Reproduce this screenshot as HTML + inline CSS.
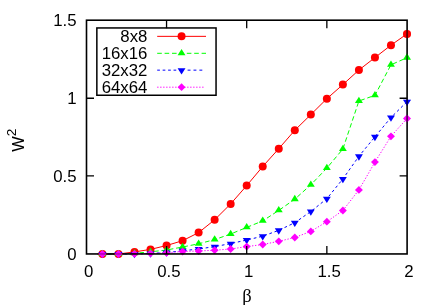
<!DOCTYPE html><html><head><meta charset="utf-8"><style>html,body{margin:0;padding:0;background:#fff;overflow:hidden}svg{display:block;will-change:transform}text{font-family:"Liberation Sans",sans-serif;font-size:16.4px;fill:#000}</style></head><body>
<svg width="436" height="305" viewBox="0 0 436 305">
<rect width="436" height="305" fill="#fff"/>
<polyline points="102.43,254.00 118.46,254.00 134.49,251.90 150.52,249.40 166.55,245.50 182.58,240.70 198.61,232.60 214.64,219.80 230.67,203.90 246.70,185.60 262.73,166.50 278.76,148.70 294.79,130.30 310.82,114.60 326.85,98.70 342.88,84.60 358.91,70.00 374.94,57.60 390.97,45.20 407.00,33.90" fill="none" stroke="#ff0000" stroke-width="1"/>
<line x1="157.2" y1="36.35" x2="206" y2="36.35" stroke="#ff0000" stroke-width="1"/>
<polyline points="102.43,254.00 118.46,254.00 134.49,253.30 150.52,251.80 166.55,250.00 182.58,247.00 198.61,243.80 214.64,239.60 230.67,234.00 246.70,227.40 262.73,220.90 278.76,210.40 294.79,199.20 310.82,184.80 326.85,168.10 342.88,149.00 358.91,101.00 374.94,95.30 390.97,64.80 407.00,57.70" fill="none" stroke="#00ff00" stroke-width="1" stroke-dasharray="4.6,2.8"/>
<line x1="157.2" y1="53.3" x2="206" y2="53.3" stroke="#00ff00" stroke-width="1" stroke-dasharray="4.6,2.8"/>
<polyline points="102.43,254.00 118.46,254.00 134.49,254.00 150.52,253.50 166.55,252.50 182.58,250.80 198.61,249.00 214.64,246.60 230.67,243.60 246.70,240.00 262.73,236.20 278.76,230.30 294.79,222.70 310.82,211.50 326.85,198.70 342.88,178.90 358.91,156.30 374.94,136.80 390.97,117.50 407.00,101.70" fill="none" stroke="#0000ff" stroke-width="1" stroke-dasharray="2.7,2.75"/>
<line x1="157.2" y1="70.15" x2="180" y2="70.15" stroke="#0000ff" stroke-width="1" stroke-dasharray="2.7,2.75"/>
<line x1="187.6" y1="70.15" x2="203" y2="70.15" stroke="#0000ff" stroke-width="1" stroke-dasharray="2.9,3.0"/>
<polyline points="102.43,254.00 118.46,254.00 134.49,253.80 150.52,253.40 166.55,252.80 182.58,251.50 198.61,251.00 214.64,250.20 230.67,249.00 246.70,246.60 262.73,244.50 278.76,241.30 294.79,237.50 310.82,231.40 326.85,221.70 342.88,210.50 358.91,189.90 374.94,162.10 390.97,136.30 407.00,118.50" fill="none" stroke="#ff00ff" stroke-width="1" stroke-dasharray="1.3,1.7"/>
<line x1="157.2" y1="87.2" x2="204.4" y2="87.2" stroke="#ff00ff" stroke-width="1" stroke-dasharray="1.3,1.7"/>
<rect x="96.85" y="27.95" width="119.2" height="67.3" fill="none" stroke="#000" stroke-width="1.5"/>
<circle cx="134.49" cy="251.90" r="4.0" fill="#ff0000"/>
<circle cx="150.52" cy="249.40" r="4.0" fill="#ff0000"/>
<circle cx="166.55" cy="245.50" r="4.0" fill="#ff0000"/>
<circle cx="182.58" cy="240.70" r="4.0" fill="#ff0000"/>
<circle cx="198.61" cy="232.60" r="4.0" fill="#ff0000"/>
<circle cx="214.64" cy="219.80" r="4.0" fill="#ff0000"/>
<circle cx="230.67" cy="203.90" r="4.0" fill="#ff0000"/>
<circle cx="246.70" cy="185.60" r="4.0" fill="#ff0000"/>
<circle cx="262.73" cy="166.50" r="4.0" fill="#ff0000"/>
<circle cx="278.76" cy="148.70" r="4.0" fill="#ff0000"/>
<circle cx="294.79" cy="130.30" r="4.0" fill="#ff0000"/>
<circle cx="310.82" cy="114.60" r="4.0" fill="#ff0000"/>
<circle cx="326.85" cy="98.70" r="4.0" fill="#ff0000"/>
<circle cx="342.88" cy="84.60" r="4.0" fill="#ff0000"/>
<circle cx="358.91" cy="70.00" r="4.0" fill="#ff0000"/>
<circle cx="374.94" cy="57.60" r="4.0" fill="#ff0000"/>
<circle cx="390.97" cy="45.20" r="4.0" fill="#ff0000"/>
<circle cx="407.00" cy="33.90" r="4.0" fill="#ff0000"/>
<circle cx="181.55" cy="36.35" r="4.0" fill="#ff0000"/>
<polygon points="134.49,248.93 130.54,255.25 138.44,255.25" fill="#00ff00"/>
<polygon points="150.52,247.43 146.57,253.75 154.47,253.75" fill="#00ff00"/>
<polygon points="166.55,245.63 162.60,251.95 170.50,251.95" fill="#00ff00"/>
<polygon points="182.58,242.63 178.63,248.95 186.53,248.95" fill="#00ff00"/>
<polygon points="198.61,239.43 194.66,245.75 202.56,245.75" fill="#00ff00"/>
<polygon points="214.64,235.23 210.69,241.55 218.59,241.55" fill="#00ff00"/>
<polygon points="230.67,229.63 226.72,235.95 234.62,235.95" fill="#00ff00"/>
<polygon points="246.70,223.03 242.75,229.35 250.65,229.35" fill="#00ff00"/>
<polygon points="262.73,216.53 258.78,222.85 266.68,222.85" fill="#00ff00"/>
<polygon points="278.76,206.03 274.81,212.35 282.71,212.35" fill="#00ff00"/>
<polygon points="294.79,194.83 290.84,201.15 298.74,201.15" fill="#00ff00"/>
<polygon points="310.82,180.43 306.87,186.75 314.77,186.75" fill="#00ff00"/>
<polygon points="326.85,163.73 322.90,170.05 330.80,170.05" fill="#00ff00"/>
<polygon points="342.88,144.63 338.93,150.95 346.83,150.95" fill="#00ff00"/>
<polygon points="358.91,96.63 354.96,102.95 362.86,102.95" fill="#00ff00"/>
<polygon points="374.94,90.93 370.99,97.25 378.89,97.25" fill="#00ff00"/>
<polygon points="390.97,60.43 387.02,66.75 394.92,66.75" fill="#00ff00"/>
<polygon points="407.00,53.33 403.05,59.65 410.95,59.65" fill="#00ff00"/>
<polygon points="181.55,48.93 177.60,55.25 185.50,55.25" fill="#00ff00"/>
<polygon points="134.49,258.37 130.54,252.05 138.44,252.05" fill="#0000ff"/>
<polygon points="150.52,257.87 146.57,251.55 154.47,251.55" fill="#0000ff"/>
<polygon points="166.55,256.87 162.60,250.55 170.50,250.55" fill="#0000ff"/>
<polygon points="182.58,255.17 178.63,248.85 186.53,248.85" fill="#0000ff"/>
<polygon points="198.61,253.37 194.66,247.05 202.56,247.05" fill="#0000ff"/>
<polygon points="214.64,250.97 210.69,244.65 218.59,244.65" fill="#0000ff"/>
<polygon points="230.67,247.97 226.72,241.65 234.62,241.65" fill="#0000ff"/>
<polygon points="246.70,244.37 242.75,238.05 250.65,238.05" fill="#0000ff"/>
<polygon points="262.73,240.57 258.78,234.25 266.68,234.25" fill="#0000ff"/>
<polygon points="278.76,234.67 274.81,228.35 282.71,228.35" fill="#0000ff"/>
<polygon points="294.79,227.07 290.84,220.75 298.74,220.75" fill="#0000ff"/>
<polygon points="310.82,215.87 306.87,209.55 314.77,209.55" fill="#0000ff"/>
<polygon points="326.85,203.07 322.90,196.75 330.80,196.75" fill="#0000ff"/>
<polygon points="342.88,183.27 338.93,176.95 346.83,176.95" fill="#0000ff"/>
<polygon points="358.91,160.67 354.96,154.35 362.86,154.35" fill="#0000ff"/>
<polygon points="374.94,141.17 370.99,134.85 378.89,134.85" fill="#0000ff"/>
<polygon points="390.97,121.87 387.02,115.55 394.92,115.55" fill="#0000ff"/>
<polygon points="407.00,106.07 403.05,99.75 410.95,99.75" fill="#0000ff"/>
<polygon points="181.55,74.52 177.60,68.20 185.50,68.20" fill="#0000ff"/>
<polygon points="134.49,249.90 130.54,253.80 134.49,257.70 138.44,253.80" fill="#ff00ff"/>
<polygon points="150.52,249.50 146.57,253.40 150.52,257.30 154.47,253.40" fill="#ff00ff"/>
<polygon points="166.55,248.90 162.60,252.80 166.55,256.70 170.50,252.80" fill="#ff00ff"/>
<polygon points="182.58,247.60 178.63,251.50 182.58,255.40 186.53,251.50" fill="#ff00ff"/>
<polygon points="198.61,247.10 194.66,251.00 198.61,254.90 202.56,251.00" fill="#ff00ff"/>
<polygon points="214.64,246.30 210.69,250.20 214.64,254.10 218.59,250.20" fill="#ff00ff"/>
<polygon points="230.67,245.10 226.72,249.00 230.67,252.90 234.62,249.00" fill="#ff00ff"/>
<polygon points="246.70,242.70 242.75,246.60 246.70,250.50 250.65,246.60" fill="#ff00ff"/>
<polygon points="262.73,240.60 258.78,244.50 262.73,248.40 266.68,244.50" fill="#ff00ff"/>
<polygon points="278.76,237.40 274.81,241.30 278.76,245.20 282.71,241.30" fill="#ff00ff"/>
<polygon points="294.79,233.60 290.84,237.50 294.79,241.40 298.74,237.50" fill="#ff00ff"/>
<polygon points="310.82,227.50 306.87,231.40 310.82,235.30 314.77,231.40" fill="#ff00ff"/>
<polygon points="326.85,217.80 322.90,221.70 326.85,225.60 330.80,221.70" fill="#ff00ff"/>
<polygon points="342.88,206.60 338.93,210.50 342.88,214.40 346.83,210.50" fill="#ff00ff"/>
<polygon points="358.91,186.00 354.96,189.90 358.91,193.80 362.86,189.90" fill="#ff00ff"/>
<polygon points="374.94,158.20 370.99,162.10 374.94,166.00 378.89,162.10" fill="#ff00ff"/>
<polygon points="390.97,132.40 387.02,136.30 390.97,140.20 394.92,136.30" fill="#ff00ff"/>
<polygon points="407.00,114.60 403.05,118.50 407.00,122.40 410.95,118.50" fill="#ff00ff"/>
<polygon points="181.55,83.30 177.60,87.20 181.55,91.10 185.50,87.20" fill="#ff00ff"/>
<path d="M166.55,253.95 V245.95 M166.55,20.2 V28.2 M246.70,253.95 V245.95 M246.70,20.2 V28.2 M326.85,253.95 V245.95 M326.85,20.2 V28.2 M86.5,175.90 H94.0 M407.1,175.90 H399.6 M86.5,98.25 H94.0 M407.1,98.25 H399.6" stroke="#000" stroke-width="1.3" fill="none"/>
<rect x="86.5" y="20.2" width="320.6" height="233.75" fill="none" stroke="#000" stroke-width="1.6"/>
<circle cx="102.43" cy="254.00" r="4.0" fill="#ff0000"/>
<circle cx="118.46" cy="254.00" r="4.0" fill="#ff0000"/>
<polygon points="102.43,249.63 98.48,255.95 106.38,255.95" fill="#00ff00"/>
<polygon points="118.46,249.63 114.51,255.95 122.41,255.95" fill="#00ff00"/>
<polygon points="102.43,258.37 98.48,252.05 106.38,252.05" fill="#0000ff"/>
<polygon points="118.46,258.37 114.51,252.05 122.41,252.05" fill="#0000ff"/>
<polygon points="102.43,250.10 98.48,254.00 102.43,257.90 106.38,254.00" fill="#ff00ff"/>
<polygon points="118.46,250.10 114.51,254.00 118.46,257.90 122.41,254.00" fill="#ff00ff"/>
<g opacity="0.3">
<circle cx="407.00" cy="33.90" r="4.0" fill="#ff0000"/>
<polygon points="407.00,53.33 403.05,59.65 410.95,59.65" fill="#00ff00"/>
<polygon points="407.00,106.07 403.05,99.75 410.95,99.75" fill="#0000ff"/>
<polygon points="407.00,114.60 403.05,118.50 407.00,122.40 410.95,118.50" fill="#ff00ff"/>
</g>
<line x1="97" y1="253.95" x2="124" y2="253.95" stroke="#000" stroke-width="1.6" opacity="0.3"/>
<text transform="translate(147.4,42.3) scale(1.025,1)" text-anchor="end">8x8</text>
<text transform="translate(147.4,58.9) scale(1.025,1)" text-anchor="end">16x16</text>
<text transform="translate(147.4,75.8) scale(1.025,1)" text-anchor="end">32x32</text>
<text transform="translate(147.4,92.8) scale(1.025,1)" text-anchor="end">64x64</text>
<text transform="translate(76.6,25.9) scale(1.025,1)" text-anchor="end">1.5</text>
<text transform="translate(76.6,103.6) scale(1.025,1)" text-anchor="end">1</text>
<text transform="translate(76.6,181.8) scale(1.025,1)" text-anchor="end">0.5</text>
<text transform="translate(76.6,259.7) scale(1.025,1)" text-anchor="end">0</text>
<text transform="translate(88.6,276.9) scale(1.025,1)" text-anchor="middle">0</text>
<text transform="translate(168.8,276.9) scale(1.025,1)" text-anchor="middle">0.5</text>
<text transform="translate(248.6,276.9) scale(1.025,1)" text-anchor="middle">1</text>
<text transform="translate(329.2,276.9) scale(1.025,1)" text-anchor="middle">1.5</text>
<text transform="translate(408.9,276.9) scale(1.025,1)" text-anchor="middle">2</text>
<text x="246.9" y="302.3" text-anchor="middle" style="font-family:'Liberation Serif',serif;font-size:18.5px">β</text>
<g transform="translate(24.4,151.8) rotate(-90)"><text x="0" y="0">W</text><text x="15.6" y="-8.3" style="font-size:13.7px">2</text></g>
</svg></body></html>
